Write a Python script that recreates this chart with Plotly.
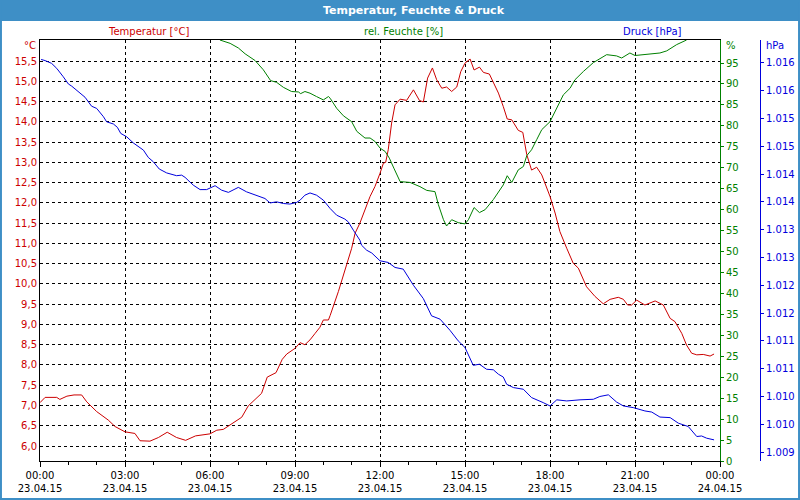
import pandas as pd
import plotly.graph_objects as go

# ---------------- data ----------------
temp_h = [0.0, 0.18, 0.59, 0.7, 0.95, 1.2, 1.47, 1.65, 2.0, 2.41,
          2.65, 3.0, 3.35, 3.53, 3.88, 4.18, 4.49, 4.82, 5.14, 5.49,
          6.0, 6.24, 6.47, 6.82, 7.12, 7.35, 7.59, 7.82, 8.02, 8.33,
          8.55, 8.71, 9.0, 9.18, 9.35, 9.53, 9.71, 9.88, 10.0, 10.18,
          10.24, 10.53, 10.82, 11.0, 11.12, 11.29, 11.65, 11.82, 12.0, 12.12,
          12.2, 12.29, 12.41, 12.53, 12.71, 12.94, 13.18, 13.39, 13.53, 13.68,
          13.85, 14.0, 14.18, 14.35, 14.53, 14.71, 14.85, 15.0, 15.18, 15.32,
          15.51, 15.65, 15.86, 16.0, 16.18, 16.35, 16.49, 16.65, 16.88, 17.04,
          17.18, 17.35, 17.53, 17.71, 18.0, 18.18, 18.35, 18.59, 18.82, 19.0,
          19.29, 19.59, 19.88, 20.12, 20.41, 20.59, 20.74, 20.88, 21.06, 21.35,
          21.71, 22.0, 22.24, 22.41, 22.65, 22.82, 23.0, 23.18, 23.41, 23.65, 23.79]
temp_v = [7.07, 7.20, 7.20, 7.15, 7.23, 7.26, 7.26, 7.09, 6.85, 6.64,
          6.48, 6.35, 6.31, 6.13, 6.12, 6.21, 6.34, 6.21, 6.14, 6.25,
          6.30, 6.39, 6.41, 6.58, 6.71, 6.99, 7.14, 7.30, 7.70, 7.81,
          8.14, 8.27, 8.41, 8.55, 8.50, 8.62, 8.78, 8.93, 9.11, 9.11,
          9.22, 9.81, 10.47, 10.88, 11.25, 11.5, 12.16, 12.4, 12.73, 12.98,
          13.0, 13.31, 13.97, 14.42, 14.56, 14.53, 14.79, 14.53, 14.49, 15.08,
          15.33, 15.04, 14.83, 14.86, 14.75, 14.86, 15.24, 15.45, 15.55, 15.28,
          15.35, 15.22, 15.18, 14.96, 14.71, 14.38, 14.07, 14.05, 13.79, 13.74,
          13.19, 12.81, 12.88, 12.69, 12.16, 11.75, 11.29, 10.88, 10.51, 10.39,
          9.93, 9.69, 9.51, 9.62, 9.67, 9.62, 9.48, 9.48, 9.60, 9.48,
          9.58, 9.48, 9.15, 9.07, 8.78, 8.49, 8.29, 8.25, 8.26, 8.22, 8.27]

hum_h = [6.35, 6.71, 7.0, 7.24, 7.59, 7.88, 8.14, 8.35, 8.59, 8.88,
         9.12, 9.2, 9.35, 9.53, 9.76, 10.0, 10.18, 10.24, 10.47, 10.71,
         11.0, 11.18, 11.47, 11.65, 11.82, 12.0, 12.18, 12.33, 12.49, 12.71,
         13.06, 13.41, 13.65, 13.94, 14.06, 14.24, 14.35, 14.53, 14.76, 15.0,
         15.12, 15.32, 15.51, 15.71, 16.0, 16.24, 16.35, 16.49, 16.65, 16.88,
         17.06, 17.18, 17.35, 17.53, 17.71, 18.0, 18.24, 18.47, 18.71, 18.88,
         19.18, 19.53, 20.0, 20.35, 20.53, 20.82, 21.0, 21.41, 21.88, 22.12, 22.47, 22.82]
hum_v = [100.5, 99.7, 98.6, 97.2, 95.6, 93.4, 90.8, 90.4, 89.2, 88.2,
         88.1, 87.7, 88.2, 87.8, 87.0, 86.2, 87.0, 86.6, 84.2, 82.4,
         81.0, 78.7, 77.1, 77.1, 76.3, 74.7, 73.9, 72.3, 69.9, 66.7,
         66.5, 65.5, 64.6, 64.3, 61.2, 57.6, 56.1, 57.6, 56.9, 56.6,
         57.6, 60.5, 59.3, 60.0, 62.4, 64.7, 65.9, 68.1, 66.5, 69.5,
         70.3, 72.9, 74.3, 76.7, 79.1, 81.0, 84.2, 87.4, 89.0, 91.0,
         93.0, 95.1, 97.0, 96.7, 96.2, 97.4, 96.8, 97.1, 97.4, 97.9, 99.4, 100.5]

pres_h = [0.04, 0.18, 0.41, 0.59, 0.82, 1.0, 1.12, 1.35, 1.59, 1.82,
          2.0, 2.24, 2.35, 2.59, 2.73, 2.85, 3.06, 3.29, 3.65, 3.82,
          4.0, 4.21, 4.47, 4.82, 5.0, 5.12, 5.41, 5.65, 5.88, 6.18,
          6.41, 6.65, 7.0, 7.29, 7.65, 7.94, 8.12, 8.35, 8.59, 8.82,
          9.06, 9.18, 9.35, 9.53, 9.76, 10.0, 10.24, 10.47, 10.76, 10.88,
          11.06, 11.29, 11.35, 11.53, 11.71, 12.0, 12.29, 12.53, 12.82, 13.18,
          13.53, 13.82, 14.12, 14.47, 14.76, 15.0, 15.29, 15.51, 15.76, 16.0,
          16.18, 16.35, 16.47, 16.71, 17.06, 17.35, 17.76, 18.0, 18.24, 18.59,
          19.06, 19.53, 19.76, 20.06, 20.35, 20.59, 20.94, 21.35, 21.59, 21.88,
          22.24, 22.53, 22.88, 23.18, 23.35, 23.53, 23.79]
pres_v = [1016.06, 1016.04, 1015.99, 1015.90, 1015.75, 1015.62, 1015.58, 1015.48, 1015.38, 1015.22,
          1015.18, 1015.03, 1014.94, 1014.90, 1014.84, 1014.73, 1014.67, 1014.56, 1014.43, 1014.30,
          1014.22, 1014.09, 1014.02, 1013.97, 1013.98, 1013.94, 1013.80, 1013.72, 1013.72, 1013.79,
          1013.71, 1013.67, 1013.76, 1013.68, 1013.62, 1013.56, 1013.48, 1013.50, 1013.47, 1013.46,
          1013.49, 1013.53, 1013.62, 1013.66, 1013.62, 1013.53, 1013.38, 1013.26, 1013.19, 1013.14,
          1012.99, 1012.81, 1012.72, 1012.63, 1012.58, 1012.44, 1012.41, 1012.32, 1012.29, 1012.00,
          1011.76, 1011.45, 1011.39, 1011.19, 1011.00, 1010.88, 1010.56, 1010.58, 1010.49, 1010.48,
          1010.40, 1010.35, 1010.22, 1010.16, 1010.13, 1009.98, 1009.89, 1009.83, 1009.94, 1009.92,
          1009.94, 1009.95, 1010.00, 1010.03, 1009.90, 1009.83, 1009.80, 1009.74, 1009.72, 1009.63,
          1009.62, 1009.52, 1009.46, 1009.28, 1009.29, 1009.25, 1009.22]

temp_ticks = [6.0, 6.5, 7.0, 7.5, 8.0, 8.5, 9.0, 9.5, 10.0, 10.5, 11.0, 11.5,
              12.0, 12.5, 13.0, 13.5, 14.0, 14.5, 15.0, 15.5]
temp_ticktext = ["6,0", "6,5", "7,0", "7,5", "8,0", "8,5", "9,0", "9,5", "10,0", "10,5",
                 "11,0", "11,5", "12,0", "12,5", "13,0", "13,5", "14,0", "14,5", "15,0", "15,5"]
hum_ticks = [0, 5, 10, 15, 20, 25, 30, 35, 40, 45, 50, 55, 60, 65, 70, 75, 80, 85, 90, 95]
pres_ticks = [1009.0, 1009.5, 1010.0, 1010.5, 1011.0, 1011.5, 1012.0, 1012.5,
              1013.0, 1013.5, 1014.0, 1014.5, 1015.0, 1015.5, 1016.0]
pres_ticktext = ["1.009", "1.010", "1.010", "1.011", "1.011", "1.012", "1.012", "1.013",
                 "1.013", "1.014", "1.014", "1.015", "1.015", "1.016", "1.016"]

title_text = "Temperatur, Feuchte & Druck"
series_names = ["Temperatur [°C]", "rel. Feuchte [%]", "Druck [hPa]"]
unit_labels = ["°C", "%", "hPa"]

# ---------------- styling ----------------
W, H = 800, 500
RED, GREEN, BLUE = "#CC0000", "#008000", "#0000DD"
FRAME = "#3E8FC6"
FONT = "DejaVu Sans"
base = pd.Timestamp("2015-04-23 00:00")


def px_x(x):
    return x / W


def px_y(y):
    return 1 - y / H


def t(hours):
    return base + pd.to_timedelta(hours, unit="h")


fig = go.Figure()
fig.add_trace(go.Scatter(x=t(temp_h), y=temp_v, mode="lines", yaxis="y",
                         line=dict(color=RED, width=1), name=series_names[0]))
fig.add_trace(go.Scatter(x=t(hum_h), y=hum_v, mode="lines", yaxis="y2",
                         line=dict(color=GREEN, width=1), name=series_names[1]))
fig.add_trace(go.Scatter(x=t(pres_h), y=pres_v, mode="lines", yaxis="y3",
                         line=dict(color=BLUE, width=1), name=series_names[2]))

x0, x1 = px_x(40), px_x(720)
y0, y1 = px_y(461), px_y(40)

fig.update_layout(
    width=W, height=H, autosize=False,
    margin=dict(l=0, r=0, t=0, b=0, pad=0),
    paper_bgcolor="white", plot_bgcolor="white",
    showlegend=False, hovermode=False,
    font=dict(family=FONT, size=10, color="black"),
    xaxis=dict(
        domain=[x0, x1], automargin=False,
        type="date",
        range=[base, base + pd.Timedelta(hours=24)],
        tick0=base, dtick=3 * 3600000,
        tickformat="%H:%M<br>%d.%m.%y",
        ticks="outside", ticklen=5, tickcolor="black",
        minor=dict(dtick=3600000, ticks="outside", ticklen=3, tickcolor="black", showgrid=False),
        showline=True, linecolor="black", linewidth=1, mirror=True,
        showgrid=True, gridcolor="black", griddash="3px,3px", gridwidth=1,
        zeroline=False,
        tickfont=dict(family=FONT, size=10, color="black"),
    ),
    yaxis=dict(
        domain=[y0, y1], automargin=False,
        range=[5.63, 16.02],
        tickvals=temp_ticks, ticktext=temp_ticktext,
        ticks="", showline=True, linecolor="black", linewidth=1,
        showgrid=True, gridcolor="black", griddash="3px,3px", gridwidth=1,
        zeroline=False,
        tickfont=dict(family=FONT, size=10, color=RED),
    ),
    yaxis2=dict(
        range=[0, 100.5], tickvals=hum_ticks, automargin=False,
        overlaying="y", side="right", anchor="x",
        ticks="outside", ticklen=3, tickcolor=GREEN,
        showline=True, linecolor=GREEN, linewidth=1,
        showgrid=False, zeroline=False,
        tickfont=dict(family=FONT, size=10, color=GREEN),
    ),
    yaxis3=dict(
        range=[1008.84, 1016.41], automargin=False,
        tickvals=pres_ticks, ticktext=pres_ticktext,
        overlaying="y", side="right", anchor="free", position=px_x(760),
        ticks="outside", ticklen=3, tickcolor=BLUE,
        showline=True, linecolor=BLUE, linewidth=1,
        showgrid=False, zeroline=False,
        tickfont=dict(family=FONT, size=10, color=BLUE),
    ),
)

shapes = [
    dict(type="rect", xref="paper", yref="paper", x0=0, x1=1, y0=px_y(21), y1=1,
         fillcolor=FRAME, line=dict(width=0), layer="above"),
    dict(type="rect", xref="paper", yref="paper", x0=0.0012, x1=0.9988, y0=0.002, y1=0.998,
         fillcolor="rgba(0,0,0,0)", line=dict(color=FRAME, width=2), layer="above"),
]
fig.update_layout(shapes=shapes)

ann = [
    dict(text="<b>" + title_text + "</b>", x=px_x(414), y=px_y(10), xanchor="center", yanchor="middle",
         font=dict(family=FONT, size=11, color="white")),
    dict(text=series_names[0], x=px_x(148), y=px_y(31), xanchor="center", yanchor="middle",
         font=dict(family=FONT, size=10, color=RED)),
    dict(text=series_names[1], x=px_x(403), y=px_y(31), xanchor="center", yanchor="middle",
         font=dict(family=FONT, size=10, color=GREEN)),
    dict(text=series_names[2], x=px_x(652), y=px_y(31), xanchor="center", yanchor="middle",
         font=dict(family=FONT, size=10, color=BLUE)),
    dict(text=unit_labels[0], x=px_x(38), y=px_y(46), xanchor="right", yanchor="middle",
         font=dict(family=FONT, size=10, color=RED)),
    dict(text=unit_labels[1], x=px_x(724), y=px_y(46), xanchor="left", yanchor="middle",
         font=dict(family=FONT, size=10, color=GREEN)),
    dict(text=unit_labels[2], x=px_x(764), y=px_y(46), xanchor="left", yanchor="middle",
         font=dict(family=FONT, size=10, color=BLUE)),
]
for a in ann:
    a.update(xref="paper", yref="paper", showarrow=False)
fig.update_layout(annotations=ann)

fig.write_html("out.html", config=dict(displayModeBar=False))
